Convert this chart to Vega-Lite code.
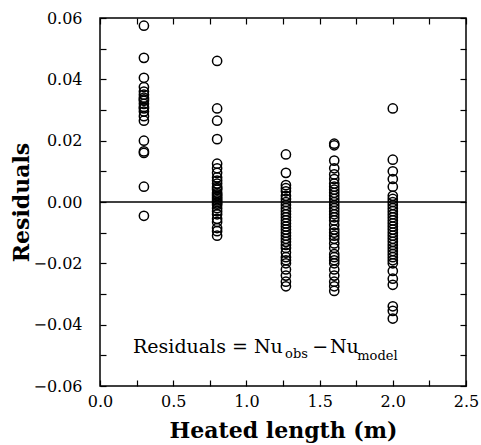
{
  "$schema": "https://vega.github.io/schema/vega-lite/v6.json",
  "width": 366,
  "height": 368,
  "autosize": "none",
  "padding": {"left": 100, "top": 18, "right": 15, "bottom": 59},
  "background": "white",
  "config": {
    "view": {"stroke": "black", "strokeWidth": 1.5},
    "axis": {
      "domain": false,
      "grid": false,
      "tickColor": "black",
      "tickWidth": 1.2,
      "tickSize": -6,
      "labelFont": "DejaVu Serif",
      "labelFontSize": 16,
      "labelColor": "black",
      "titleFont": "DejaVu Serif",
      "titleFontSize": 22,
      "titleFontWeight": "bold",
      "titleColor": "black",
      "labelOverlap": false,
      "labelFlush": false
    }
  },
  "data": {
    "values": [
      {"length": 0.3, "residual": 0.0575}, {"length": 0.3, "residual": 0.047}, {"length": 0.3, "residual": 0.0405},
      {"length": 0.3, "residual": 0.0375}, {"length": 0.3, "residual": 0.036}, {"length": 0.3, "residual": 0.035},
      {"length": 0.3, "residual": 0.034}, {"length": 0.3, "residual": 0.0335}, {"length": 0.3, "residual": 0.033},
      {"length": 0.3, "residual": 0.032}, {"length": 0.3, "residual": 0.031}, {"length": 0.3, "residual": 0.0305},
      {"length": 0.3, "residual": 0.0295}, {"length": 0.3, "residual": 0.028}, {"length": 0.3, "residual": 0.0265},
      {"length": 0.3, "residual": 0.0200}, {"length": 0.3, "residual": 0.0165}, {"length": 0.3, "residual": 0.0160},
      {"length": 0.3, "residual": 0.005}, {"length": 0.3, "residual": -0.0045},

      {"length": 0.8, "residual": 0.046}, {"length": 0.8, "residual": 0.0305}, {"length": 0.8, "residual": 0.0265},
      {"length": 0.8, "residual": 0.0205}, {"length": 0.8, "residual": 0.0125}, {"length": 0.8, "residual": 0.011},
      {"length": 0.8, "residual": 0.0095}, {"length": 0.8, "residual": 0.008}, {"length": 0.8, "residual": 0.007},
      {"length": 0.8, "residual": 0.006}, {"length": 0.8, "residual": 0.005}, {"length": 0.8, "residual": 0.0045},
      {"length": 0.8, "residual": 0.004}, {"length": 0.8, "residual": 0.003}, {"length": 0.8, "residual": 0.0025},
      {"length": 0.8, "residual": 0.002}, {"length": 0.8, "residual": 0.0015}, {"length": 0.8, "residual": 0.001},
      {"length": 0.8, "residual": 0.0005}, {"length": 0.8, "residual": 0.0}, {"length": 0.8, "residual": -0.0005},
      {"length": 0.8, "residual": -0.001}, {"length": 0.8, "residual": -0.002}, {"length": 0.8, "residual": -0.003},
      {"length": 0.8, "residual": -0.004}, {"length": 0.8, "residual": -0.0055}, {"length": 0.8, "residual": -0.0065},
      {"length": 0.8, "residual": -0.0085}, {"length": 0.8, "residual": -0.0095}, {"length": 0.8, "residual": -0.011},

      {"length": 1.27, "residual": 0.0155}, {"length": 1.27, "residual": 0.0095}, {"length": 1.27, "residual": 0.0055},
      {"length": 1.27, "residual": 0.0045}, {"length": 1.27, "residual": 0.0035}, {"length": 1.27, "residual": 0.002},
      {"length": 1.27, "residual": 0.001}, {"length": 1.27, "residual": 0.0}, {"length": 1.27, "residual": -0.001},
      {"length": 1.27, "residual": -0.002}, {"length": 1.27, "residual": -0.003}, {"length": 1.27, "residual": -0.004},
      {"length": 1.27, "residual": -0.005}, {"length": 1.27, "residual": -0.006}, {"length": 1.27, "residual": -0.007},
      {"length": 1.27, "residual": -0.008}, {"length": 1.27, "residual": -0.009}, {"length": 1.27, "residual": -0.010},
      {"length": 1.27, "residual": -0.011}, {"length": 1.27, "residual": -0.012}, {"length": 1.27, "residual": -0.013},
      {"length": 1.27, "residual": -0.014}, {"length": 1.27, "residual": -0.015}, {"length": 1.27, "residual": -0.0165},
      {"length": 1.27, "residual": -0.018}, {"length": 1.27, "residual": -0.019}, {"length": 1.27, "residual": -0.020},
      {"length": 1.27, "residual": -0.022}, {"length": 1.27, "residual": -0.024}, {"length": 1.27, "residual": -0.026},
      {"length": 1.27, "residual": -0.0275},

      {"length": 1.6, "residual": 0.019}, {"length": 1.6, "residual": 0.0185}, {"length": 1.6, "residual": 0.0135},
      {"length": 1.6, "residual": 0.011}, {"length": 1.6, "residual": 0.009}, {"length": 1.6, "residual": 0.0075},
      {"length": 1.6, "residual": 0.006}, {"length": 1.6, "residual": 0.005}, {"length": 1.6, "residual": 0.004},
      {"length": 1.6, "residual": 0.003}, {"length": 1.6, "residual": 0.002}, {"length": 1.6, "residual": 0.001},
      {"length": 1.6, "residual": 0.0}, {"length": 1.6, "residual": -0.001}, {"length": 1.6, "residual": -0.002},
      {"length": 1.6, "residual": -0.003}, {"length": 1.6, "residual": -0.004}, {"length": 1.6, "residual": -0.005},
      {"length": 1.6, "residual": -0.006}, {"length": 1.6, "residual": -0.0075}, {"length": 1.6, "residual": -0.009},
      {"length": 1.6, "residual": -0.010}, {"length": 1.6, "residual": -0.011}, {"length": 1.6, "residual": -0.012},
      {"length": 1.6, "residual": -0.0135}, {"length": 1.6, "residual": -0.015}, {"length": 1.6, "residual": -0.017},
      {"length": 1.6, "residual": -0.018}, {"length": 1.6, "residual": -0.019}, {"length": 1.6, "residual": -0.020},
      {"length": 1.6, "residual": -0.022}, {"length": 1.6, "residual": -0.024}, {"length": 1.6, "residual": -0.026},
      {"length": 1.6, "residual": -0.0275}, {"length": 1.6, "residual": -0.029},

      {"length": 2.0, "residual": 0.0305}, {"length": 2.0, "residual": 0.0138}, {"length": 2.0, "residual": 0.010},
      {"length": 2.0, "residual": 0.0075}, {"length": 2.0, "residual": 0.005}, {"length": 2.0, "residual": 0.002},
      {"length": 2.0, "residual": 0.001}, {"length": 2.0, "residual": 0.0}, {"length": 2.0, "residual": -0.001},
      {"length": 2.0, "residual": -0.002}, {"length": 2.0, "residual": -0.003}, {"length": 2.0, "residual": -0.004},
      {"length": 2.0, "residual": -0.005}, {"length": 2.0, "residual": -0.006}, {"length": 2.0, "residual": -0.007},
      {"length": 2.0, "residual": -0.008}, {"length": 2.0, "residual": -0.009}, {"length": 2.0, "residual": -0.010},
      {"length": 2.0, "residual": -0.011}, {"length": 2.0, "residual": -0.012}, {"length": 2.0, "residual": -0.013},
      {"length": 2.0, "residual": -0.014}, {"length": 2.0, "residual": -0.015}, {"length": 2.0, "residual": -0.016},
      {"length": 2.0, "residual": -0.017}, {"length": 2.0, "residual": -0.018}, {"length": 2.0, "residual": -0.019},
      {"length": 2.0, "residual": -0.020}, {"length": 2.0, "residual": -0.0225}, {"length": 2.0, "residual": -0.025},
      {"length": 2.0, "residual": -0.027}, {"length": 2.0, "residual": -0.034}, {"length": 2.0, "residual": -0.0355},
      {"length": 2.0, "residual": -0.038}
    ]
  },
  "layer": [
    {
      "mark": {"type": "point", "shape": "circle", "filled": false, "stroke": "black", "strokeWidth": 1.5, "size": 85, "opacity": 1},
      "encoding": {
        "x": {
          "field": "length", "type": "quantitative",
          "scale": {"domain": [0, 2.5], "nice": false, "zero": false},
          "title": "Heated length (m)",
          "axis": {
            "orient": "bottom",
            "values": [0, 0.25, 0.5, 0.75, 1, 1.25, 1.5, 1.75, 2, 2.25, 2.5],
            "labelExpr": "abs(datum.value*2 - round(datum.value*2)) < 1e-6 ? format(datum.value, '.1f') : ''",
            "labelPadding": 13,
            "titlePadding": 11
          }
        },
        "y": {
          "field": "residual", "type": "quantitative",
          "scale": {"domain": [-0.06, 0.06], "nice": false, "zero": false},
          "title": "Residuals",
          "axis": {
            "orient": "left",
            "values": [-0.06, -0.05, -0.04, -0.03, -0.02, -0.01, 0, 0.01, 0.02, 0.03, 0.04, 0.05, 0.06],
            "labelExpr": "abs(datum.value*50 - round(datum.value*50)) < 1e-6 ? format(datum.value, '.2f') : ''",
            "labelPadding": 24,
            "titlePadding": -1
          }
        }
      }
    },
    {
      "data": {"values": [{}]},
      "mark": {"type": "rule", "stroke": "black", "strokeWidth": 1.5},
      "encoding": {
        "y": {
          "datum": 0, "type": "quantitative",
          "axis": {
            "orient": "right", "labels": false, "title": null,
            "values": [-0.06, -0.05, -0.04, -0.03, -0.02, -0.01, 0, 0.01, 0.02, 0.03, 0.04, 0.05, 0.06]
          }
        },
        "x": {
          "datum": 0, "type": "quantitative",
          "axis": {
            "orient": "top", "labels": false, "title": null,
            "values": [0, 0.25, 0.5, 0.75, 1, 1.25, 1.5, 1.75, 2, 2.25, 2.5]
          }
        },
        "x2": {"datum": 2.5}
      }
    },
    {
      "data": {"values": [{}]},
      "mark": {"type": "text", "font": "DejaVu Serif", "fontSize": 19, "fontWeight": "normal", "align": "left", "baseline": "alphabetic", "fill": "black"},
      "encoding": {
        "x": {"datum": 0.2254, "type": "quantitative", "axis": null},
        "y": {"datum": -0.0492, "type": "quantitative", "axis": null},
        "text": {"value": "Residuals = Nu"}
      }
    },
    {
      "data": {"values": [{}]},
      "mark": {"type": "text", "font": "DejaVu Serif", "fontSize": 13, "fontWeight": "normal", "align": "left", "baseline": "alphabetic", "fill": "black"},
      "encoding": {
        "x": {"datum": 1.264, "type": "quantitative", "axis": null},
        "y": {"datum": -0.0509, "type": "quantitative", "axis": null},
        "text": {"value": "obs"}
      }
    },
    {
      "data": {"values": [{}]},
      "mark": {"type": "text", "font": "DejaVu Serif", "fontSize": 19, "fontWeight": "normal", "align": "left", "baseline": "alphabetic", "fill": "black"},
      "encoding": {
        "x": {"datum": 1.449, "type": "quantitative", "axis": null},
        "y": {"datum": -0.0492, "type": "quantitative", "axis": null},
        "text": {"value": "−"}
      }
    },
    {
      "data": {"values": [{}]},
      "mark": {"type": "text", "font": "DejaVu Serif", "fontSize": 19, "fontWeight": "normal", "align": "left", "baseline": "alphabetic", "fill": "black"},
      "encoding": {
        "x": {"datum": 1.571, "type": "quantitative", "axis": null},
        "y": {"datum": -0.0492, "type": "quantitative", "axis": null},
        "text": {"value": "Nu"}
      }
    },
    {
      "data": {"values": [{}]},
      "mark": {"type": "text", "font": "DejaVu Serif", "fontSize": 13, "fontWeight": "normal", "align": "left", "baseline": "alphabetic", "fill": "black"},
      "encoding": {
        "x": {"datum": 1.757, "type": "quantitative", "axis": null},
        "y": {"datum": -0.0515, "type": "quantitative", "axis": null},
        "text": {"value": "model"}
      }
    }
  ],
  "resolve": {"axis": {"x": "independent", "y": "independent"}}
}
